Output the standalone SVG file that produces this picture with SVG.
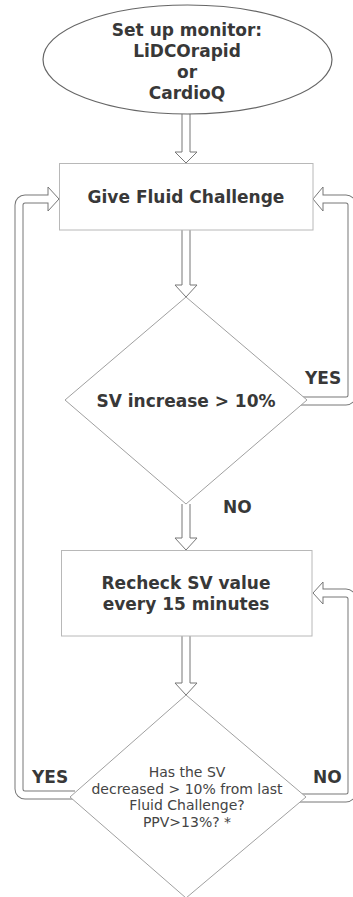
<svg xmlns="http://www.w3.org/2000/svg" width="353" height="897" viewBox="0 0 353 897">
<style>
.bg{fill:#fff}
.node{fill:#fff;stroke:#b8b8b8;stroke-width:1}
.dia{fill:#fff;stroke:#a0a0a0;stroke-width:1}
.ell{fill:#fff;stroke:#666;stroke-width:1.2}
.t{font-family:"DejaVu Sans",Verdana,sans-serif;font-weight:bold;font-size:17px;fill:#383838;text-anchor:middle}
.tn{font-family:"DejaVu Sans",Verdana,sans-serif;font-size:14px;fill:#444;text-anchor:middle}
.lbl{font-family:"DejaVu Sans",Verdana,sans-serif;font-weight:bold;font-size:17px;fill:#383838}
.arr{fill:#fff;stroke:#777;stroke-width:1;stroke-linejoin:miter}
.so{fill:none;stroke:#777;stroke-width:9}
.si{fill:none;stroke:#fff;stroke-width:7}
</style>
<rect class="bg" x="0" y="0" width="353" height="897"/>
<g id="connectors">
  <path class="arr" d="M182,114 L182,152 L175,152 L186,163 L197,152 L190,152 L190,114"/>
  <path class="arr" d="M182,230 L182,285 L175,285 L186,297 L197,285 L190,285 L190,230"/>
  <path class="arr" d="M182,504 L182,538 L175,538 L186,550 L197,538 L190,538 L190,504"/>
  <path class="arr" d="M182,636 L182,683 L175,683 L186,695 L197,683 L190,683 L190,636"/>
  <path class="so" d="M298,401 H346 A6,6 0 0 0 352,395 V205 A6,6 0 0 0 346,199 H323"/>
  <path class="arr" d="M323,187 L313,199 L323,211 Z"/>
  <path class="si" d="M298,401 H346 A6,6 0 0 0 352,395 V205 A6,6 0 0 0 346,199 H322"/>
  <path class="so" d="M75,795 H25 A6,6 0 0 1 19,789 V205 A6,6 0 0 1 25,199 H48"/>
  <path class="arr" d="M48,187 L59,199 L48,211 Z"/>
  <path class="si" d="M75,795 H25 A6,6 0 0 1 19,789 V205 A6,6 0 0 1 25,199 H49"/>
  <path class="so" d="M298,798 H346 A6,6 0 0 0 352,792 V599 A6,6 0 0 0 346,593 H323"/>
  <path class="arr" d="M323,582 L313,593 L323,604 Z"/>
  <path class="si" d="M298,798 H346 A6,6 0 0 0 352,792 V599 A6,6 0 0 0 346,593 H322"/>
</g>
<g id="start">
  <ellipse class="ell" cx="187.5" cy="59.5" rx="144.5" ry="54.5"/>
  <text class="t" x="187" y="36">Set up monitor:</text>
  <text class="t" x="187" y="57">LiDCOrapid</text>
  <text class="t" x="187" y="78">or</text>
  <text class="t" x="187" y="99">CardioQ</text>
</g>
<g id="fluid">
  <rect class="node" x="59.5" y="163.5" width="253.5" height="66.5"/>
  <text class="t" x="186" y="203">Give Fluid Challenge</text>
</g>
<g id="svincrease">
  <polygon class="dia" points="186,297 307,400 186,504 65,400"/>
  <text class="t" x="186" y="407">SV increase &gt; 10%</text>
</g>
<g id="recheck">
  <rect class="node" x="61.5" y="550.5" width="250.5" height="85.5"/>
  <text class="t" x="186" y="589">Recheck SV value</text>
  <text class="t" x="186" y="610">every 15 minutes</text>
</g>
<g id="decreased">
  <polygon class="dia" points="186,695 306,797 186,898 70,797"/>
  <text class="tn" x="187" y="777">Has the SV</text>
  <text class="tn" x="187" y="793.5">decreased &gt; 10% from last</text>
  <text class="tn" x="187" y="810">Fluid Challenge?</text>
  <text class="tn" x="187" y="826.5">PPV&gt;13%? *</text>
</g>
<g id="labels">
  <text class="lbl" x="305" y="384">YES</text>
  <text class="lbl" x="223" y="513">NO</text>
  <text class="lbl" x="32" y="783">YES</text>
  <text class="lbl" x="313" y="783">NO</text>
</g>
</svg>
